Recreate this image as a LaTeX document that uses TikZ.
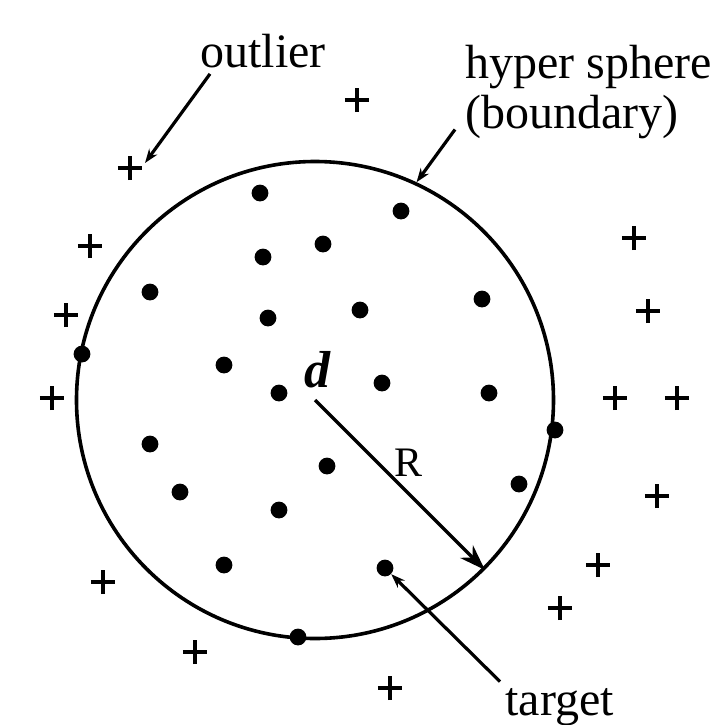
\documentclass[tikz,border=0pt]{standalone}
\usepackage{fontspec}
\setmainfont{Liberation Serif}
\usetikzlibrary{shapes.misc,arrows.meta,calc}
\begin{document}
\begin{tikzpicture}[
  x=0.5pt,y=-0.5pt,
  font=\fontsize{24}{25}\selectfont,
  dot/.style={circle,fill=black,inner sep=0pt,minimum size=8.4pt},
  plus/.style={cross out,draw=black,line width=1.8pt,rotate=45,
               inner sep=0pt,minimum size=6.7pt},
  lbl/.style={inner sep=0pt,anchor=base west},
  pointer/.style={-{Stealth[length=7pt,width=5pt]},line width=1.6pt}
]
  \useasboundingbox (0,0) rectangle (724,725);

  \node[draw,circle,line width=1.8pt,inner sep=0pt,minimum size=238.5pt]
    (sphere) at (315,400) {};

  \foreach \x/\y [count=\i] in {260/193,401/211,263/257,323/244,150/292,
      268/318,360/310,482/299,82/354,224/365,279/393,382/383,489/393,
      555/430,150/444,327/466,180/492,519/484,279/510,224/565,298/637}
    \node[dot] (d\i) at (\x,\y) {};
  \node[dot] (tgt) at (385,568) {};

  \foreach \x/\y [count=\i] in {357/100,90/246,66/315,52/398,634/238,
      648/311,615/398,677/398,657/496,598/565,560/608,103/582,195/652,390/688}
    \node[plus] (p\i) at (\x,\y) {};
  \node[plus] (out) at (130,168) {};

  \node[font=\fontsize{26}{28}\selectfont\bfseries\itshape,inner sep=0pt]
    (dlab) at (317,370) {d};
  \node[font=\fontsize{21}{22}\selectfont,inner sep=0pt] (rlab) at (409,463) {R};
  \draw[-{Stealth[length=13pt,width=9pt]},line width=1.6pt]
    (sphere.center) -- (sphere.-45);

  \node[lbl] (outl) at (200,67) {outlier};
  \draw[pointer] ($(outl.south west)+(10,6)$) -- ($(out)+(15,-5)$);

  \node[inner sep=0pt,anchor=north west,align=left] (hyp) at (465,45)
    {hyper sphere\\(boundary)};
  \draw[pointer] ($(hyp.south west)+(-10,-10)$) -- (sphere.65);

  \node[lbl] (tlab) at (505,715) {target};
  \draw[pointer] ($(tlab.north west)+(-5,-6)$) -- (tgt);
\end{tikzpicture}
\end{document}
